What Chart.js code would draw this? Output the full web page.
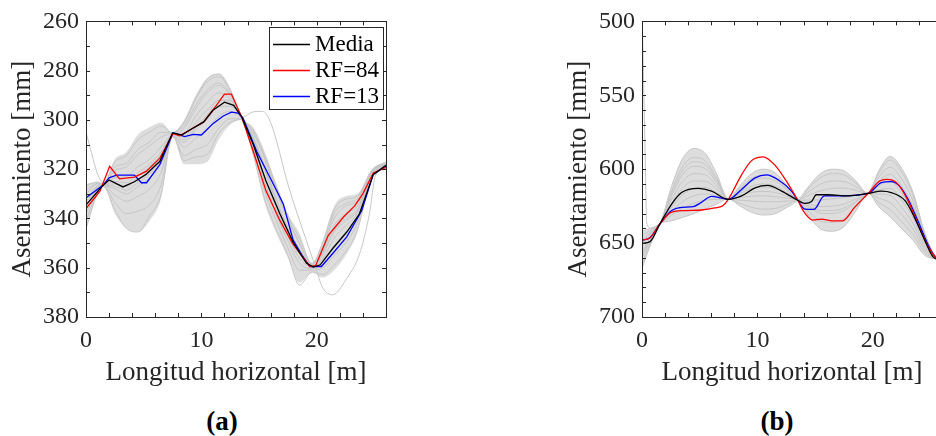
<!DOCTYPE html>
<html>
<head>
<meta charset="utf-8">
<script src="https://cdn.jsdelivr.net/npm/chart.js@4.4.1/dist/chart.umd.min.js"></script>
<style>
  html, body { margin: 0; padding: 0; background: #fff; }
  body { width: 936px; height: 436px; overflow: hidden; position: relative; }
  canvas { position: absolute; top: 0; }
  .tag { position: absolute; top: 406px; width: 80px; margin-left: -40px; line-height: 30px; text-align: center;
         font-family: "Liberation Serif", serif; font-weight: bold; font-size: 27px; color: #000; }
</style>
</head>
<body>
<canvas id="chartA" width="400" height="400" style="left:0"></canvas>
<canvas id="chartB" width="400" height="400" style="left:556px"></canvas>
<div class="tag" style="left:222px">(a)</div>
<div class="tag" style="left:777px">(b)</div>
<script>
// ---- panel (a) ----
const meanAX = [0, 1.5, 2.0, 3.2, 4.2, 5.2, 6.4, 7.5, 8.3, 9.0, 10.2, 11.0, 12.0, 12.8, 13.5, 14.5, 15.6, 16.8, 18.0, 19.1, 19.7, 20.3, 21.4, 22.6, 23.7, 24.9, 26];
const meanAY = [334.5, 326.4, 324.4, 327.2, 325.1, 322.1, 316.8, 305.3, 306.1, 304.1, 300.8, 296.1, 292.8, 294.1, 298.8, 310.1, 324.8, 338.1, 350.1, 358.1, 359.7, 358.8, 352.1, 345.5, 338.1, 322.1, 318.4];
const rf84AX = [0, 1.2, 2.05, 2.9, 4.2, 5.25, 6.4, 7.55, 8.1, 9.0, 10.2, 11.3, 12.0, 12.6, 13.5, 14.5, 15.6, 16.8, 17.9, 19.4, 19.9, 21.0, 22.3, 23.3, 24.0, 24.9, 26];
const rf84AY = [336, 329, 318.8, 323.9, 323.2, 320.8, 315.5, 305.5, 306.4, 304.1, 300.8, 294.1, 289.5, 289.5, 298.8, 312.8, 328.8, 340.8, 350.1, 359.5, 359.2, 346.8, 339.5, 334.8, 329.9, 321.5, 319.2];
const rf13AX = [0, 1.5, 2.0, 2.65, 4.2, 4.8, 5.25, 6.4, 7.55, 8.55, 9.3, 10.0, 11.0, 11.9, 12.6, 13.2, 13.6, 14.8, 16.1, 17.1, 17.95, 18.7, 19.4, 20.4, 21.4, 22.6, 23.9, 24.9, 26];
const rf13AY = [331.6, 326.4, 323.5, 322.4, 322.4, 325.5, 325.5, 318.1, 305.2, 306.8, 305.9, 306.1, 301.5, 298.4, 296.8, 297.2, 299.2, 312.8, 324.8, 334.1, 348.8, 354.8, 359.5, 359.5, 354.1, 347.5, 336.8, 322.1, 318.8];

// gray realizations (a), all on the same x grid
const gridAX = [0, 1, 1.5, 2.5, 3.5, 4.5, 5.5, 6.5, 7.5, 8.5, 9.5, 10.5, 11.5, 12.5, 13.5, 14.5, 15.5, 16.5, 17.5, 18.5, 19.6, 20.5, 21.5, 22.5, 23.5, 24.8, 26];
const grayA = [
  [326.5, 325.3, 326, 317, 314.5, 308, 305, 302.5, 305.1, 301, 291.5, 284.5, 282.5, 288, 299, 304, 314.5, 327, 339, 348, 358.2, 350, 336.5, 332.2, 331, 320.2, 317.2],
  [330, 326, 326.2, 320.5, 319, 314, 310.5, 307, 305.5, 307, 301, 296, 292, 293, 299.2, 305.5, 315, 328, 340, 350, 358.8, 351.5, 338, 334, 332, 320.6, 317.6],
  [332, 326.8, 326.4, 323.5, 323, 319, 316, 311, 305.8, 303.5, 295.5, 289, 286, 290, 299.4, 307, 319, 332, 344, 352.5, 359.5, 353.5, 343, 338, 335, 321, 318],
  [335.5, 327.5, 326.5, 327, 328.5, 325.5, 322, 316.5, 306, 311, 307.5, 304, 298.5, 296.5, 299.5, 309, 323.5, 336, 347, 356, 360, 356.5, 348, 343, 338, 321.5, 318.5],
  [338, 328.5, 326.6, 330.5, 333, 331, 328, 321.5, 306.3, 314.5, 312, 310, 303.5, 299.5, 299.6, 308, 320, 333, 345, 354, 359.8, 355, 345, 340, 336.5, 321.2, 318.3],
  [341, 329, 326.8, 333.5, 338, 337, 334.5, 326.5, 306.6, 305.5, 298.5, 293, 289, 291.5, 299.8, 312, 329, 341, 352, 361, 361, 360, 355, 350, 342, 322.3, 319.2],
  [344, 329.8, 327, 336.5, 344, 345.5, 339, 330.5, 306.9, 309, 304, 300, 294.5, 294.5, 299.9, 314, 332.5, 344.5, 355, 367, 361.7, 362.8, 359, 353.5, 345, 322.8, 319.7],
  [333.5, 327, 326.4, 325, 325.5, 321.5, 318, 313, 306, 316.5, 315, 314, 305.5, 301, 299.8, 310.5, 325.5, 338.5, 349, 358, 360.5, 358, 351, 345.5, 340, 321.8, 318.8],
  [328.5, 325.8, 326.1, 319, 317.5, 312, 309, 305, 305.2, 301, 291.5, 283.5, 281.5, 288, 299.1, 305, 316, 329, 341, 350, 358.6, 352, 340, 335, 333, 320.5, 317.5],
  [336.5, 328, 326.6, 328, 330, 327, 323.5, 318, 306.2, 302.5, 294, 288, 285, 289.5, 299.5, 307.5, 320.5, 334, 345.5, 354, 359.6, 354, 345.5, 341, 337, 321.3, 318.2]
];
const bandTopA = [326, 325, 326, 316, 313, 306, 303, 301, 305, 300, 290, 283, 281, 287, 299, 303, 313, 326, 338, 346, 358, 349, 335, 331, 330, 320, 317];
const bandBotA = [345, 330, 327, 338, 344, 345.5, 341, 332, 307, 318, 318, 317, 308, 302, 300, 315, 334, 346, 356, 366, 362, 364, 361, 355, 346, 323, 320];
// outliers (a)
const outA1X = [0, 0.4, 1, 1.5];
const outA1Y = [305, 312, 322, 326];
const outA2X = [0, 1, 1.5, 2.5, 3.5, 4.5, 5.5, 6.5, 7.5, 8.5, 9.5, 10.5, 11.5, 12.5, 13.5, 14.5, 15.3, 16.0, 17.6, 19.1, 19.9, 20.5, 21.4, 22.5, 23.7, 24.55, 25.1, 26];
const outA2Y = [333, 327.5, 326.5, 326, 327, 323, 319, 314, 306, 308, 303, 298, 292, 292, 299, 296.7, 296.5, 301, 327.7, 349, 359.9, 368, 371, 365, 354.5, 338.4, 322.4, 319.5];

// ---- panel (b) ----
const meanBX = [0, 0.7, 1.56, 2.57, 3.43, 4.88, 6.03, 7.48, 8.63, 9.8, 10.9, 12.1, 13.5, 14.1, 14.7, 15.1, 16.1, 17.9, 19.6, 20.75, 21.6, 22.8, 23.6, 24.5, 25.2, 26];
const meanBY = [650.2, 649, 636.9, 623.6, 615.8, 613, 614.8, 620.4, 618.1, 612.6, 611, 614.8, 621, 623.1, 621.8, 617.3, 617.3, 618, 616.4, 614.8, 615.8, 621.3, 632.4, 648, 659.1, 662];
const rf84BX = [0, 0.7, 1.56, 2.57, 3.7, 5.15, 6.3, 7.0, 7.48, 8.63, 9.5, 10.5, 11.5, 12.7, 13.5, 13.97, 14.8, 15.55, 16.4, 17.4, 18.4, 19.6, 20.6, 21.2, 22.05, 23.05, 23.9, 24.8, 25.4, 26];
const rf84BY = [648, 646.4, 636.9, 629.1, 628, 627.6, 626.2, 624.7, 620.4, 603.8, 594.2, 591.6, 597.1, 610.4, 621, 628.1, 634.4, 633.8, 634.9, 634.9, 626, 616.4, 608, 606.9, 609.1, 621.3, 636.9, 652.4, 659.1, 662];
const rf13BX = [0, 0.7, 1.56, 2.57, 3.43, 4.45, 5.15, 6.03, 6.9, 7.48, 8.63, 9.8, 10.8, 11.8, 12.96, 13.5, 14.1, 14.9, 15.8, 17.3, 19.6, 20.75, 21.6, 22.3, 23.05, 23.9, 24.8, 25.4, 26];
const rf13BY = [648, 646.4, 636.9, 628, 625.8, 625.3, 622.4, 618.4, 619.6, 620.4, 613.7, 605.9, 603.8, 607.1, 614.8, 621, 627, 627.2, 618, 618, 616.4, 609.1, 608.4, 611.3, 620.2, 634.7, 651.3, 659.1, 662];

const gridBX = [0, 0.8, 1.56, 2.5, 3.5, 4.5, 5.5, 6.5, 7.48, 8.5, 9.5, 10.5, 11.5, 12.5, 13.5, 14.5, 15.5, 16.5, 17.5, 18.5, 19.6, 20.5, 21.5, 22.5, 23.5, 24.5, 25.5, 26];
const grayB = [
  [645, 641, 637, 613, 593.1, 586, 589.5, 603.7, 620, 613.7, 608, 606, 607.7, 613.6, 621, 623.5, 625.3, 625, 623.6, 620.2, 616.4, 602.8, 593.8, 601.8, 617.8, 643.8, 660.1, 662],
  [652, 643.8, 637, 616, 598.5, 592, 594.6, 606.4, 620, 617.7, 615.6, 615, 615.7, 618.1, 621, 612.5, 605.5, 603, 603.8, 609.2, 616.4, 608.4, 603.4, 611.4, 625.4, 647.4, 660.3, 662],
  [660, 647, 637, 619, 603.9, 598, 599.7, 609.1, 620, 611, 602.9, 600, 602.2, 610.6, 621, 626, 629.8, 630, 628.1, 622.7, 616.4, 614, 613, 621, 633, 651, 660.5, 662],
  [648, 642.2, 637, 621.5, 608.4, 603, 603.9, 611.4, 620, 620.9, 621.6, 622, 622.1, 621.6, 621, 615, 610, 608, 608.3, 611.7, 616.4, 605.6, 598.6, 606.6, 621.6, 645.6, 660.2, 662],
  [656, 645.4, 637, 624, 612.9, 608, 608.2, 613.6, 620, 615.5, 611.4, 610, 611.3, 615.6, 621, 629, 635.2, 636, 633.5, 625.7, 616.4, 619.6, 622.6, 630.6, 640.6, 654.6, 660.7, 662],
  [664, 648.6, 637, 626.5, 617.4, 613, 612.4, 615.9, 620, 623.1, 625.8, 627, 626.6, 624.1, 621, 617.5, 614.5, 613, 612.8, 614.2, 616.4, 611.2, 608.2, 616.2, 629.2, 649.2, 660.4, 662],
  [642, 639.8, 637, 629, 621.9, 618, 616.7, 618.1, 620, 612.8, 606.3, 604, 605.9, 612.6, 621, 620.9, 620.8, 620, 619.1, 617.7, 616.4, 616.8, 617.8, 625.8, 636.8, 652.8, 660.6, 662],
  [650, 643, 637, 631.5, 626.4, 623, 620.9, 620.4, 620, 619.1, 618.2, 618, 618.5, 619.6, 621, 632, 640.6, 642, 638.9, 628.7, 616.4, 625.2, 632.2, 640.2, 648.2, 658.2, 660.9, 662],
  [658, 646.2, 637, 635, 632.7, 630, 626.9, 623.5, 620, 624.9, 629.2, 631, 630.2, 626.1, 621, 611, 602.8, 600, 601.1, 607.7, 616.4, 601.4, 591.4, 599.4, 615.9, 642.9, 660.05, 662],
  [667, 650, 637, 617.5, 601.2, 595, 597.1, 607.8, 620, 616.4, 613.1, 612, 613.1, 616.6, 621, 625, 628, 628, 626.3, 621.7, 616.4, 622.4, 627.4, 635.4, 644.4, 656.4, 660.8, 662]
];
const bandTopB = [642, 639.8, 637, 613, 593.1, 586, 589.5, 603.7, 620, 611, 602.9, 600, 602.2, 610.6, 621, 611, 602.8, 600, 601.1, 607.7, 616.4, 601.4, 591.4, 599.4, 615.9, 642.9, 660, 662];
const bandBotB = [667, 650, 637, 635, 632.7, 630, 626.9, 623.5, 620, 624.9, 629.2, 631, 630.2, 626.1, 621, 632, 640.6, 642, 638.9, 628.7, 616.4, 625.2, 632.2, 640.2, 648.2, 658.2, 660.9, 662];
const outB1X = [0.03, 0.3, 0.4, 0.8, 1.56];
const outB1Y = [500, 600, 636, 640, 637];

const xTitle = 'Longitud horizontal [m]';
const yTitle = 'Asentamiento [mm]';

const FONT = 'Liberation Serif';
const INK = '#262626';
const GRAY = '#c6c6c6';

function pts(xs, ys) {
  return xs.map((x, i) => ({ x: x, y: ys[i] }));
}

function mainLine(label, xs, ys, color, smooth) {
  return {
    label: label, data: pts(xs, ys), borderColor: color, borderWidth: 1.3,
    pointRadius: 0, fill: false, tension: 0,
    cubicInterpolationMode: smooth ? 'monotone' : 'default', order: 1
  };
}

function grayLine(xs, ys) {
  return {
    data: pts(xs, ys), borderColor: GRAY, borderWidth: 1, pointRadius: 0,
    fill: false, cubicInterpolationMode: 'monotone', order: 5
  };
}

function bandSets(xs, top, bot) {
  return [
    { data: pts(xs, top), borderWidth: 0, borderColor: 'rgba(0,0,0,0)', pointRadius: 0,
      fill: false, cubicInterpolationMode: 'monotone', order: 9 },
    { data: pts(xs, bot), borderWidth: 0, borderColor: 'rgba(0,0,0,0)', pointRadius: 0,
      fill: '-1', backgroundColor: 'rgba(200,200,200,0.62)', cubicInterpolationMode: 'monotone', order: 9 }
  ];
}

// box round the plot with inward ticks on all four sides, plus the legend box
const boxTicks = {
  id: 'boxTicks',
  afterDatasetsDraw(chart, args, opts) {
    const { ctx, chartArea: a, scales: { x, y } } = chart;
    const len = 4;
    ctx.save();
    ctx.strokeStyle = INK;
    ctx.lineWidth = 1;
    ctx.beginPath();
    for (let v = x.min; v <= x.max + 1e-9; v += opts.xMinor) {
      const px = Math.round(x.getPixelForValue(v)) + 0.5;
      ctx.moveTo(px, a.bottom); ctx.lineTo(px, a.bottom - len);
      ctx.moveTo(px, a.top); ctx.lineTo(px, a.top + len);
    }
    for (let v = y.min; v <= y.max + 1e-9; v += opts.yMinor) {
      const py = Math.round(y.getPixelForValue(v)) + 0.5;
      ctx.moveTo(a.left, py); ctx.lineTo(a.left + len, py);
      ctx.moveTo(a.right, py); ctx.lineTo(a.right - len, py);
    }
    ctx.stroke();
    ctx.strokeRect(Math.round(a.left) + 0.5, Math.round(a.top) + 0.5,
      Math.round(a.right - a.left), Math.round(a.bottom - a.top));
    ctx.restore();
  },
  afterDraw(chart, args, opts) {
    if (!opts.legend) return;
    const { ctx, chartArea: a } = chart;
    const items = chart.data.datasets.filter(d => d.label);
    const w = 114, rowH = 26, h = items.length * rowH + 4;
    const left = Math.round(a.right - 3 - w), top = Math.round(a.top + 6);
    ctx.save();
    ctx.fillStyle = '#fff';
    ctx.fillRect(left, top, w, h);
    ctx.strokeStyle = INK;
    ctx.lineWidth = 1;
    ctx.strokeRect(left + 0.5, top + 0.5, w, h);
    ctx.font = '23px "' + FONT + '"';
    ctx.textBaseline = 'middle';
    items.forEach((d, i) => {
      const cy = top + 17 + i * rowH;
      ctx.strokeStyle = d.borderColor;
      ctx.lineWidth = d.borderWidth;
      ctx.beginPath();
      ctx.moveTo(left + 4, cy + 0.5); ctx.lineTo(left + 41, cy + 0.5);
      ctx.stroke();
      ctx.fillStyle = '#000';
      ctx.fillText(d.label, left + 46, cy + 1);
    });
    ctx.restore();
  }
};

function makeOptions(yMin, yMax, yStep, yMinor, legend) {
  return {
    responsive: false,
    animation: false,
    events: [],
    layout: { padding: { top: 18, right: 14, bottom: 0, left: 0 } },
    plugins: {
      legend: { display: false },
      tooltip: { enabled: false },
      boxTicks: { xMinor: 2, yMinor: yMinor, legend: legend }
    },
    scales: {
      x: {
        type: 'linear', min: 0, max: 26,
        grid: { display: false, drawTicks: false, tickLength: 0 }, border: { display: false },
        ticks: { stepSize: 10, includeBounds: false, color: INK, font: { family: FONT, size: 24 }, padding: 9, maxRotation: 0 },
        title: { display: true, text: xTitle, color: INK, font: { family: FONT, size: 27 }, padding: { top: 0, bottom: 11 } },
        afterFit: s => { s.height = 83; }
      },
      y: {
        type: 'linear', min: yMin, max: yMax, reverse: true,
        grid: { display: false, drawTicks: false, tickLength: 0 }, border: { display: false },
        ticks: { stepSize: yStep, color: INK, font: { family: FONT, size: 24 }, padding: 7 },
        title: { display: true, text: yTitle, color: INK, font: { family: FONT, size: 27 }, padding: { top: 7, bottom: 0 } },
        afterFit: s => { s.width = 86; }
      }
    }
  };
}

const setsA = [
  mainLine('Media', meanAX, meanAY, '#000000', false),
  mainLine('RF=84', rf84AX, rf84AY, '#ff0000', false),
  mainLine('RF=13', rf13AX, rf13AY, '#0000ff', false)
].concat(
  grayA.map(ys => grayLine(gridAX, ys)),
  [grayLine(outA1X, outA1Y), grayLine(outA2X, outA2Y)],
  bandSets(gridAX, bandTopA, bandBotA)
);

const setsB = [
  mainLine('Media', meanBX, meanBY, '#000000', true),
  mainLine('RF=84', rf84BX, rf84BY, '#ff0000', true),
  mainLine('RF=13', rf13BX, rf13BY, '#0000ff', true)
].concat(
  grayB.map(ys => grayLine(gridBX, ys)),
  [grayLine(outB1X, outB1Y)],
  bandSets(gridBX, bandTopB, bandBotB)
);

new Chart(document.getElementById('chartA'), {
  type: 'line',
  data: { datasets: setsA },
  options: makeOptions(260, 380, 20, 10, true),
  plugins: [boxTicks]
});

new Chart(document.getElementById('chartB'), {
  type: 'line',
  data: { datasets: setsB },
  options: makeOptions(500, 700, 50, 10, false),
  plugins: [boxTicks]
});
</script>
</body>
</html>
